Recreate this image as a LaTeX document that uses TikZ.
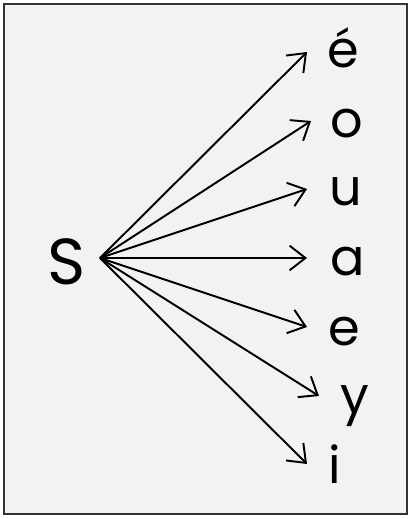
\documentclass[tikz,border=0pt]{standalone}
\usepackage{fontspec}
\setmainfont{Poppins}
\usetikzlibrary{arrows.meta}
\definecolor{panel}{HTML}{F2F2F2}
\definecolor{frame}{HTML}{333333}
\tikzset{
  ray/.style={-{Straight Barb[length=9pt,width=14pt]}, line width=1.1pt},
  vowel/.style={anchor=base west, inner sep=0pt, font=\fontsize{29}{29}\selectfont}
}
\begin{document}
\begin{tikzpicture}[x=0.02cm,y=-0.02cm]
        \useasboundingbox (0,0) rectangle (411,519);
        \draw [fill=panel, draw=frame, line width=1.5pt] (4,4) rectangle (407,514);
        \node (s) [anchor=base west, inner sep=0pt, font=\fontsize{37}{37}\selectfont] at (47,285) {S};
        \coordinate (src) at (100,258);
        \node (e1) [vowel] at (327,68) {é};
        \node (o) [vowel] at (330,138) {o};
        \node (u) [vowel] at (329,206) {u};
        \node (a) [vowel] at (330,276) {a};
        \node (e2) [vowel] at (328,345) {e};
        \node (y) [vowel] at (340,413) {y};
        \node (i) [vowel] at (328,483) {i};
        \coordinate (t1) at (307,52);
        \coordinate (t2) at (311,121);
        \coordinate (t3) at (307,189);
        \coordinate (t4) at (307,258);
        \coordinate (t5) at (307,327);
        \coordinate (t6) at (319,396);
        \coordinate (t7) at (307,464);
        \draw [ray] (src) -- (t1);
        \draw [ray] (src) -- (t2);
        \draw [ray] (src) -- (t3);
        \draw [ray] (src) -- (t4);
        \draw [ray] (src) -- (t5);
        \draw [ray] (src) -- (t6);
        \draw [ray] (src) -- (t7);
    \end{tikzpicture}
\end{document}
